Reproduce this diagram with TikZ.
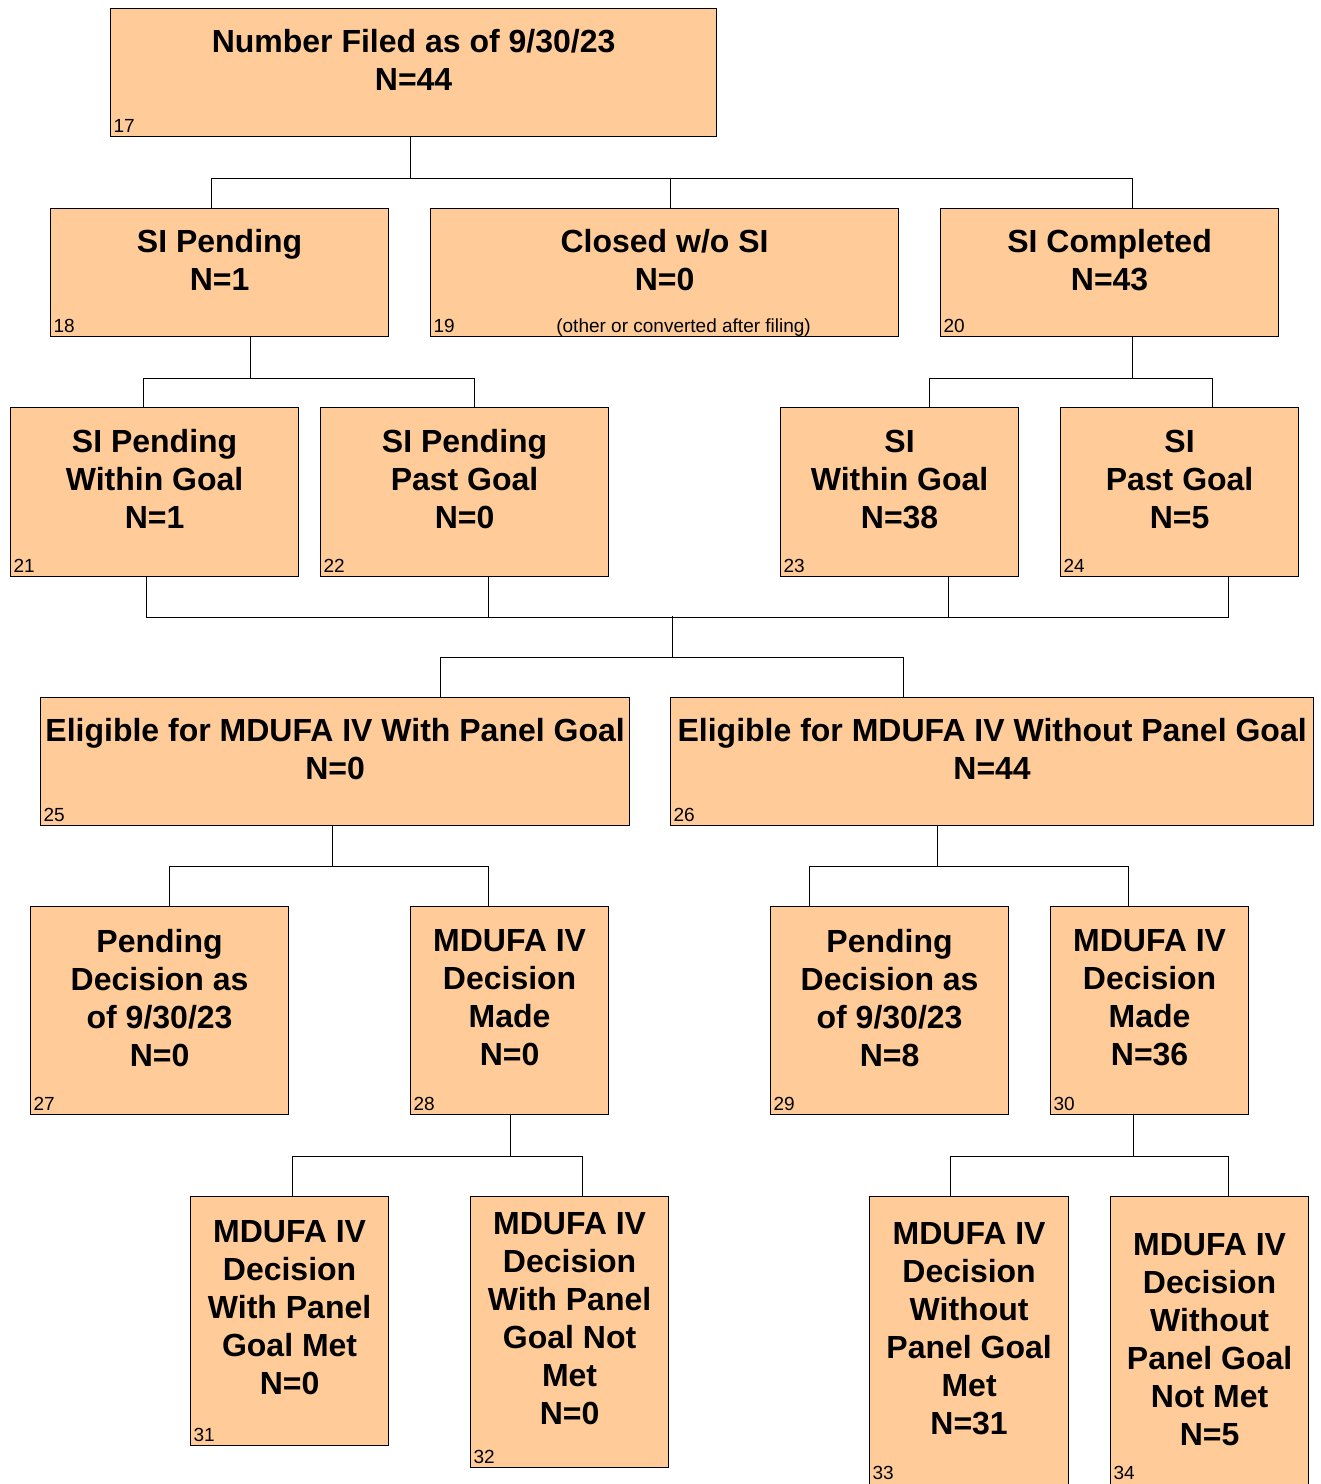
\documentclass[tikz,border=0pt]{standalone}
\usepackage{fontspec}
\setmainfont{Liberation Sans}
\definecolor{boxfill}{HTML}{FFCC99}

\begin{document}
\begin{tikzpicture}[x=1pt, y=-1pt, line width=1pt,
                    box/.style={rectangle,draw,line width=1.2pt,fill=boxfill,inner sep=0pt,anchor=north west},
                    boxtxt/.style={align=center,inner sep=0pt,font=\bfseries\fontsize{32}{38}\selectfont},
                    numtxt/.style={anchor=base west,inner sep=0pt,font=\fontsize{19}{21}\selectfont}]

  \useasboundingbox (0,0) rectangle (1321,1484);

  % level 1
  \node[box, minimum width=606pt, minimum height=128pt] (filed) at (110,8) {};
  \node[boxtxt] (filedtxt) at ([yshift=13pt]filed.center) {Number Filed as of 9/30/23\\N=44};
  \node[numtxt] (filednum) at ([xshift=3pt,yshift=5pt]filed.south west) {17};

  % level 2
  \node[box, minimum width=338pt, minimum height=128pt] (sipend) at (50,208) {};
  \node[boxtxt] (sipendtxt) at ([yshift=13pt]sipend.center) {SI Pending\\N=1};
  \node[numtxt] (sipendnum) at ([xshift=3pt,yshift=5pt]sipend.south west) {18};

  \node[box, minimum width=468pt, minimum height=128pt] (closed) at (430,208) {};
  \node[boxtxt] (closedtxt) at ([yshift=13pt]closed.center) {Closed w/o SI\\N=0};
  \node[numtxt] (closednum) at ([xshift=3pt,yshift=5pt]closed.south west) {19};
  \node[numtxt, anchor=base] (closednote) at ([xshift=19pt,yshift=5pt]closed.south) {(other or converted after filing)};

  \node[box, minimum width=338pt, minimum height=128pt] (sicomp) at (940,208) {};
  \node[boxtxt] (sicomptxt) at ([yshift=13pt]sicomp.center) {SI Completed\\N=43};
  \node[numtxt] (sicompnum) at ([xshift=3pt,yshift=5pt]sicomp.south west) {20};

  % level 3
  \node[box, minimum width=288pt, minimum height=169pt] (pendin) at (10,407) {};
  \node[boxtxt] (pendintxt) at ([yshift=13pt]pendin.center) {SI Pending\\Within Goal\\N=1};
  \node[numtxt] (pendinnum) at ([xshift=3pt,yshift=5pt]pendin.south west) {21};

  \node[box, minimum width=288pt, minimum height=169pt] (pendpast) at (320,407) {};
  \node[boxtxt] (pendpasttxt) at ([yshift=13pt]pendpast.center) {SI Pending\\Past Goal\\N=0};
  \node[numtxt] (pendpastnum) at ([xshift=3pt,yshift=5pt]pendpast.south west) {22};

  \node[box, minimum width=238pt, minimum height=169pt] (siin) at (780,407) {};
  \node[boxtxt] (siintxt) at ([yshift=13pt]siin.center) {SI\\Within Goal\\N=38};
  \node[numtxt] (siinnum) at ([xshift=3pt,yshift=5pt]siin.south west) {23};

  \node[box, minimum width=238pt, minimum height=169pt] (sipast) at (1060,407) {};
  \node[boxtxt] (sipasttxt) at ([yshift=13pt]sipast.center) {SI\\Past Goal\\N=5};
  \node[numtxt] (sipastnum) at ([xshift=3pt,yshift=5pt]sipast.south west) {24};

  % level 4
  \node[box, minimum width=589pt, minimum height=128pt] (panel) at (40,697) {};
  \node[boxtxt] (paneltxt) at ([yshift=13pt]panel.center) {Eligible for MDUFA IV With Panel Goal\\N=0};
  \node[numtxt] (panelnum) at ([xshift=3pt,yshift=5pt]panel.south west) {25};

  \node[box, minimum width=643pt, minimum height=128pt] (nopanel) at (670,697) {};
  \node[boxtxt] (nopaneltxt) at ([yshift=13pt]nopanel.center) {Eligible for MDUFA IV Without Panel Goal\\N=44};
  \node[numtxt] (nopanelnum) at ([xshift=3pt,yshift=5pt]nopanel.south west) {26};

  % level 5
  \node[box, minimum width=258pt, minimum height=208pt] (pwait) at (30,906) {};
  \node[boxtxt] (pwaittxt) at ([yshift=13pt]pwait.center) {Pending\\Decision as\\of 9/30/23\\N=0};
  \node[numtxt] (pwaitnum) at ([xshift=3pt,yshift=5pt]pwait.south west) {27};

  \node[box, minimum width=198pt, minimum height=208pt] (pdone) at (410,906) {};
  \node[boxtxt] (pdonetxt) at ([yshift=13pt]pdone.center) {MDUFA IV\\Decision\\Made\\N=0};
  \node[numtxt] (pdonenum) at ([xshift=3pt,yshift=5pt]pdone.south west) {28};

  \node[box, minimum width=238pt, minimum height=208pt] (nwait) at (770,906) {};
  \node[boxtxt] (nwaittxt) at ([yshift=13pt]nwait.center) {Pending\\Decision as\\of 9/30/23\\N=8};
  \node[numtxt] (nwaitnum) at ([xshift=3pt,yshift=5pt]nwait.south west) {29};

  \node[box, minimum width=198pt, minimum height=208pt] (ndone) at (1050,906) {};
  \node[boxtxt] (ndonetxt) at ([yshift=13pt]ndone.center) {MDUFA IV\\Decision\\Made\\N=36};
  \node[numtxt] (ndonenum) at ([xshift=3pt,yshift=5pt]ndone.south west) {30};

  % level 6
  \node[box, minimum width=198pt, minimum height=249pt] (pmet) at (190,1196) {};
  \node[boxtxt] (pmettxt) at ([yshift=13pt]pmet.center) {MDUFA IV\\Decision\\With Panel\\Goal Met\\N=0};
  \node[numtxt] (pmetnum) at ([xshift=3pt,yshift=5pt]pmet.south west) {31};

  \node[box, minimum width=198pt, minimum height=271pt] (pnot) at (470,1196) {};
  \node[boxtxt] (pnottxt) at ([yshift=13pt]pnot.center) {MDUFA IV\\Decision\\With Panel\\Goal Not\\Met\\N=0};
  \node[numtxt] (pnotnum) at ([xshift=3pt,yshift=5pt]pnot.south west) {32};

  \node[box, minimum width=199pt, minimum height=290pt] (nmet) at (869,1196) {};
  \node[boxtxt] (nmettxt) at ([yshift=13pt]nmet.center) {MDUFA IV\\Decision\\Without\\Panel Goal\\Met\\N=31};
  \node[numtxt] (nmetnum) at ([xshift=3pt]nmet.south west |- 0,1479) {33};

  \node[box, minimum width=198pt, minimum height=312pt] (nnot) at (1110,1196) {};
  \node[boxtxt] (nnottxt) at ([yshift=13pt]nnot.center) {MDUFA IV\\Decision\\Without\\Panel Goal\\Not Met\\N=5};
  \node[numtxt] (nnotnum) at ([xshift=3pt]nnot.south west |- 0,1479) {34};

  % connectors
  \draw ([xshift=-3pt]filed.south) -- ++(0,42);
  \draw ([xshift=-8pt]sipend.north) -- ++(0,-30) -| ([xshift=23pt]sicomp.north);
  \draw ([xshift=6pt]closed.north) -- ++(0,-30);

  \draw ([xshift=31pt]sipend.south) -- ++(0,42);
  \draw ([xshift=-11pt]pendin.north) -- ++(0,-29) -| ([xshift=10pt]pendpast.north);

  \draw ([xshift=23pt]sicomp.south) -- ++(0,42);
  \draw ([xshift=30pt]siin.north) -- ++(0,-29) -| ([xshift=33pt]sipast.north);

  \draw ([xshift=-8pt]pendin.south) -- ++(0,40) -| ([xshift=49pt]sipast.south);
  \draw ([xshift=24pt]pendpast.south) -- ++(0,40);
  \draw ([xshift=49pt]siin.south) -- ++(0,40);
  \draw (672,616) -- (672,657);
  \draw ([xshift=105pt]panel.north) -- ++(0,-40) -| ([xshift=-89pt]nopanel.north);

  \draw ([xshift=-3pt]panel.south) -- ++(0,41);
  \draw ([xshift=10pt]pwait.north) -- ++(0,-40) -| ([xshift=-21pt]pdone.north);

  \draw ([xshift=-55pt]nopanel.south) -- ++(0,41);
  \draw ([xshift=-80pt]nwait.north) -- ++(0,-40) -| ([xshift=-21pt]ndone.north);

  \draw ([xshift=1pt]pdone.south) -- ++(0,42);
  \draw ([xshift=3pt]pmet.north) -- ++(0,-40) -| ([xshift=13pt]pnot.north);

  \draw ([xshift=-16pt]ndone.south) -- ++(0,42);
  \draw ([xshift=-19pt]nmet.north) -- ++(0,-40) -| ([xshift=19pt]nnot.north);

\end{tikzpicture}
\end{document}
